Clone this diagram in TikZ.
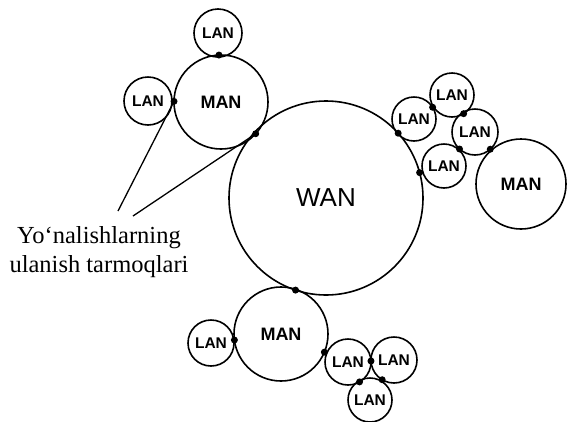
\documentclass[tikz,border=0pt]{standalone}
\usepackage{fontspec}
\setmainfont{Liberation Serif}
\newfontfamily\sansf{Liberation Sans}
\usetikzlibrary{calc}
\begin{document}
\begin{tikzpicture}[x=1pt,y=-1pt,line width=1.6pt,
  net/.style={circle,draw,inner sep=0pt},
  lan/.style={net,minimum size=#1,font=\sansf\bfseries\fontsize{15.5}{15.5}\selectfont},
  man/.style={net,minimum size=#1,font=\sansf\bfseries\fontsize{18}{18}\selectfont},
  wanst/.style={net,minimum size=#1,font=\sansf\fontsize{26}{26}\selectfont},
  dot/.style={circle,fill,inner sep=0pt,minimum size=7pt},
  lbl/.style={align=center,inner sep=0pt,font=\fontsize{24.5}{29}\selectfont}]
\useasboundingbox (0,0) rectangle (567,421);
% WAN
\node[wanst=194pt] (wan) at (326,198) {WAN};
% top-left MAN group
\node[man=94pt] (man1) at (221,102) {MAN};
\node[lan=48pt] (lanT) at (218,33) {LAN};
\node[lan=48pt] (lanL) at (148,101) {LAN};
% right group
\node[lan=44pt] (lanA) at (414,119) {LAN};
\node[lan=44pt] (lanB) at (452,95) {LAN};
\node[lan=46pt] (lanC) at (475,132) {LAN};
\node[lan=44pt] (lanD) at (444,166) {LAN};
\node[man=90pt] (man2) at (521,184) {MAN};
% bottom group
\node[man=94pt] (man3) at (281,334) {MAN};
\node[lan=46pt] (lanE) at (211,343) {LAN};
\node[lan=46pt] (lanF) at (348,362) {LAN};
\node[lan=46pt] (lanG) at (394,360) {LAN};
\node[lan=44pt] (lanH) at (370,400) {LAN};
% connection dots
\node[dot] (d1) at ($(man1.center)!47pt!(wan.center)$) {};
\node[dot] (d2) at ($(man1.center)!47pt!(lanT.center)$) {};
\node[dot] (d3) at ($(man1.center)!47pt!(lanL.center)$) {};
\node[dot] (d4) at ($(wan.center)!97pt!(lanA.center)$) {};
\node[dot] (d5) at ($(lanA.center)!22pt!(lanB.center)$) {};
\node[dot] (d6) at ($(lanB.center)!22pt!(lanC.center)$) {};
\node[dot] (d7) at ($(lanC.center)!23pt!(lanD.center)$) {};
\node[dot] (d8) at ($(lanC.center)!23pt!(man2.center)$) {};
\node[dot] (d9) at ($(wan.center)!97pt!(lanD.center)$) {};
\node[dot] (d10) at ($(wan.center)!97pt!(man3.center)$) {};
\node[dot] (d11) at ($(man3.center)!47pt!(lanE.center)$) {};
\node[dot] (d12) at ($(man3.center)!47pt!(lanF.center)$) {};
\node[dot] (d13) at ($(lanF.center)!23pt!(lanG.center)$) {};
\node[dot] (d14) at ($(lanF.center)!23pt!(lanH.center)$) {};
\node[dot] (d15) at ($(lanG.center)!23pt!(lanH.center)$) {};
% label
\node[lbl] (txt) at (99,252) {Yo‘nalishlarning\\ulanish tarmoqlari};
\coordinate (p1) at (118,211);
\coordinate (p2) at (133,216);
\draw[line width=1.3pt] (p1) -- (d3.center);
\draw[line width=1.3pt] (p2) -- (d1.center);
\end{tikzpicture}
\end{document}
